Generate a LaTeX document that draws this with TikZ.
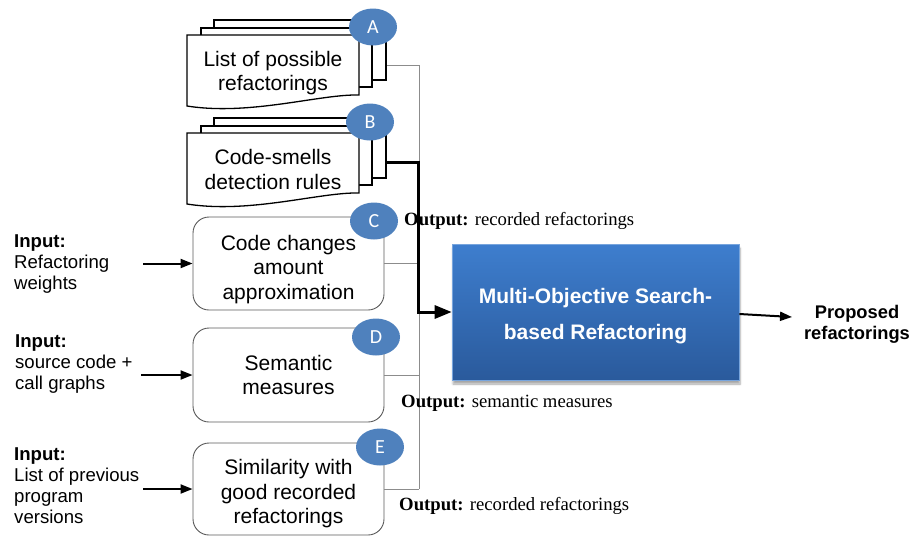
\documentclass[tikz,border=0pt]{standalone}
\usepackage{fontspec}
\setmainfont{Liberation Sans}
\newfontfamily\serifout{Liberation Serif}
\newfontfamily\badgefont{Carlito}
\usetikzlibrary{shapes.geometric,arrows.meta,calc,shadows.blur}
\definecolor{badgeblue}{RGB}{79,129,189}
\definecolor{boxtop}{RGB}{62,126,206}
\definecolor{boxbot}{RGB}{42,90,156}
\definecolor{busgrey}{RGB}{140,140,140}
\definecolor{boxedge}{RGB}{90,90,90}
\begin{document}
\begin{tikzpicture}[x=1pt,y=-1pt,
  pagesheet/.style={draw=black,line width=2pt,fill=white,inner sep=0pt},
  frontsheet/.style={draw=black,line width=1.3pt,fill=white},
  doctext/.style={align=center,font=\fontsize{21}{24.5}\selectfont},
  procbox/.style={draw=boxedge,line width=0.9pt,rounded corners=16pt,fill=white,
    minimum width=191pt,inner sep=0pt},
  boxtext/.style={align=center,inner sep=0pt,font=\fontsize{21}{24.5}\selectfont},
  badge/.style={ellipse,fill=badgeblue,minimum width=48pt,minimum height=37pt,
    inner sep=0pt,text=white,font=\badgefont\fontsize{20}{20}\selectfont},
  intext/.style={anchor=west,align=left,inner sep=0pt,font=\fontsize{18.6}{21}\selectfont},
  outtext/.style={anchor=west,inner sep=0pt,font=\serifout\fontsize{18.7}{21}\selectfont},
  bus/.style={draw=busgrey,line width=1pt},
  feed/.style={line width=2pt,-{Triangle[length=12pt,width=9pt]}},
  mainfeed/.style={line width=3pt,-{Triangle[length=17pt,width=13pt]}},
  search/.style={top color=boxtop,bottom color=boxbot,draw=boxtop!70!white,line width=0.6pt,
    minimum width=287pt,minimum height=136pt,
    blur shadow={shadow xshift=1pt,shadow yshift=-4pt,shadow blur steps=6,shadow opacity=35}},
  searchtext/.style={align=center,inner sep=0pt,text=white,font=\bfseries\fontsize{21}{36}\selectfont},
  resulttext/.style={align=center,inner sep=0pt,font=\bfseries\fontsize{18.3}{21}\selectfont}
]
\useasboundingbox (0,0) rectangle (913,536);

% stacked document A
\node[pagesheet,minimum width=172pt,minimum height=60pt] (A3) at (300,50) {};
\node[pagesheet,minimum width=171pt,minimum height=59pt] (A2) at (286.5,57.5) {};
\draw[frontsheet] (187,35) -- (359,35) -- (359,95) .. controls (320,94) and (250,116) .. (187,106) -- cycle;
\node[doctext] (A) at (273,73) {List of possible\\refactorings};

% stacked document B
\node[pagesheet,minimum width=172pt,minimum height=60pt] (B3) at (300,148) {};
\node[pagesheet,minimum width=171pt,minimum height=59pt] (B2) at (286.5,155.5) {};
\draw[frontsheet] (187,133) -- (359,133) -- (359,193) .. controls (320,192) and (250,214) .. (187,204) -- cycle;
\node[doctext] (B) at (273,169.5) {Code-smells\\detection rules};

% process boxes
\node[procbox,minimum height=93pt] (C) at (288.5,263.5) {};
\node[procbox,minimum height=94pt] (D) at (288.5,375) {};
\node[procbox,minimum height=92pt] (E) at (288.5,489) {};
\node[boxtext] (Ct) at (288.5,269.5) {Code changes\\amount\\approximation};
\node[boxtext] (Dt) at (288.5,375) {Semantic\\measures};
\node[boxtext] (Et) at (288.5,494) {Similarity with\\good recorded\\refactorings};

% collecting bus
\coordinate (jA) at (419,65);
\draw[bus] ($(A3.east)+(0,15)$) -- (jA);
\draw[bus] (C.east) -- (C.east -| jA);
\draw[bus] (D.east) -- (D.east -| jA);
\draw[bus] (E.east) -- (E.east -| jA);
\draw[bus] (jA) -- (E.east -| jA);

% search engine
\node[search] (M) at (595.5,312) {};
\node[searchtext] (Mt) at (595.5,316) {Multi-Objective Search-\\based Refactoring};
\draw[mainfeed] ($(B3.east)+(0,14)$) -| ($(M.west)+(-33,0)$) -- (M.west);

% badges
\node[badge] (bA) at (373,27) {A};
\node[badge] (bB) at (370,122) {B};
\node[badge] (bC) at (374,221) {C};
\node[badge] (bD) at (376,337) {D};
\node[badge] (bE) at (380,447) {E};

% inputs
\node[intext] (inC) at (14,264) {\textbf{Input:}\\Refactoring\\weights};
\node[intext] (inD) at (15,364) {\textbf{Input:}\\source code +\\call graphs};
\node[intext] (inE) at (14,486) {\textbf{Input:}\\List of previous\\program\\versions};
\coordinate (sC) at (143,263.5);
\coordinate (sD) at (141,375);
\coordinate (sE) at (143,489);
\draw[feed] (sC) -- (C.west);
\draw[feed] (sD) -- (D.west);
\draw[feed] (sE) -- (E.west);

% outputs
\node[outtext] (oC) at (404,221) {\textbf{Output:} recorded refactorings};
\node[outtext] (oD) at (401,403) {\textbf{Output:} semantic measures};
\node[outtext] (oE) at (399,506) {\textbf{Output:} recorded refactorings};

% result
\coordinate (res) at (792,317);
\draw[feed] ($(M.east)+(0,2)$) -- (res);
\node[resulttext] (P) at (857,324) {Proposed\\refactorings};
\end{tikzpicture}
\end{document}
